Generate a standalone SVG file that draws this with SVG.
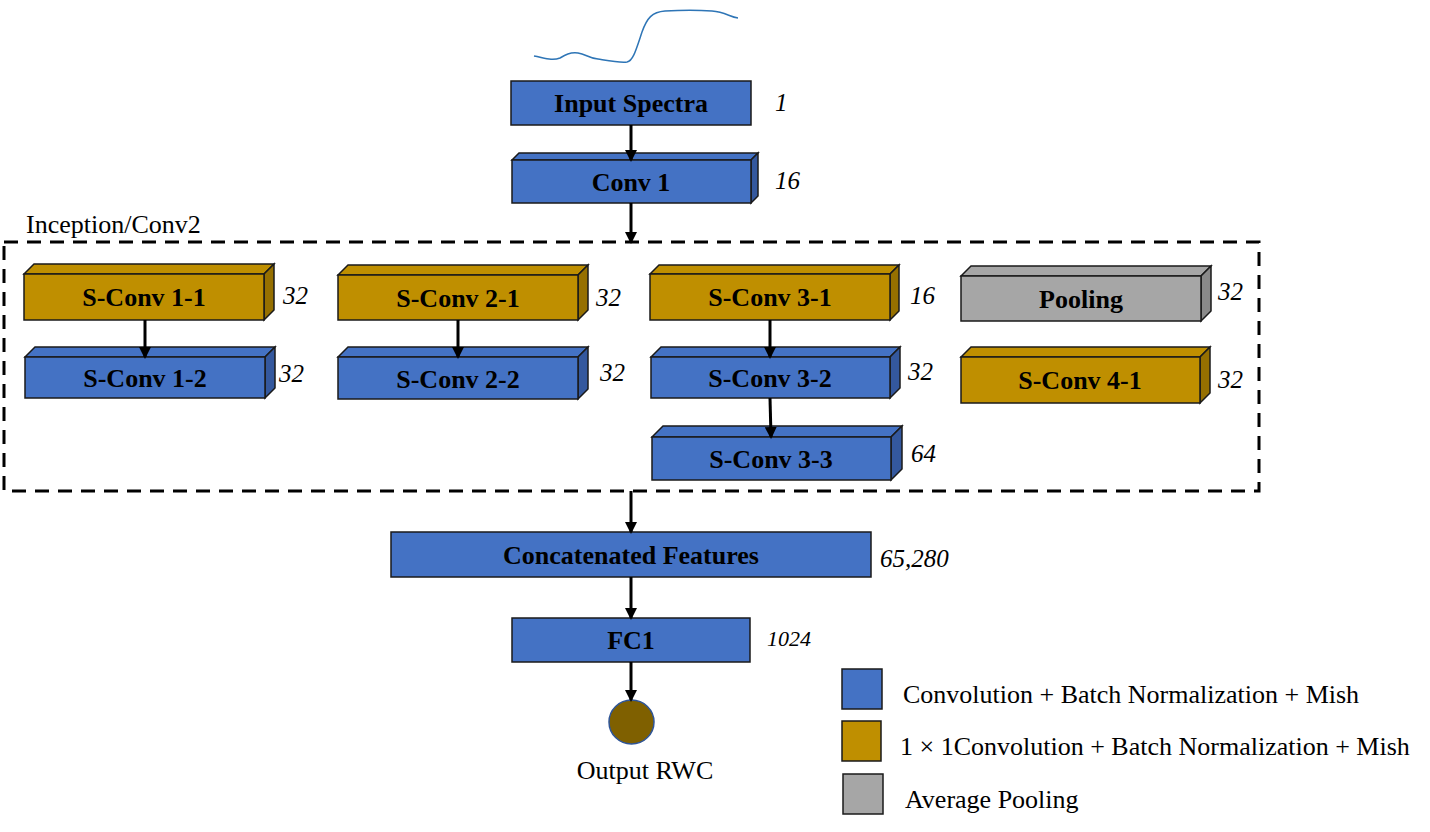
<svg xmlns="http://www.w3.org/2000/svg" width="1430" height="832" viewBox="0 0 1430 832">
<defs>
<style>
.blue{fill:#4472C4;stroke:#1a1a1a;stroke-width:1.5}
.blueS{fill:#34589E;stroke:#1a1a1a;stroke-width:1.5}
.gold{fill:#BF8F00;stroke:#1a1a1a;stroke-width:1.5}
.goldS{fill:#967000;stroke:#1a1a1a;stroke-width:1.5}
.gray{fill:#A6A6A6;stroke:#1a1a1a;stroke-width:1.5}
.grayS{fill:#8A8A8A;stroke:#1a1a1a;stroke-width:1.5}
.lbl{font-family:"Liberation Serif","Times New Roman",serif;font-weight:bold;font-size:26px;fill:#000;text-anchor:middle}
.num{font-family:"Liberation Serif","Times New Roman",serif;font-style:italic;font-size:25px;fill:#000}
.txt{font-family:"Liberation Serif","Times New Roman",serif;font-size:26px;fill:#000}
.leg{font-family:"Liberation Serif","Times New Roman",serif;font-size:26px;fill:#000}
.arr{stroke:#000;stroke-width:3;fill:none;marker-end:url(#ah)}
</style>
<marker id="ah" markerWidth="12" markerHeight="12" refX="10" refY="6" orient="auto" markerUnits="userSpaceOnUse">
<path d="M0,0 L12,6 L0,12 Z" fill="#000"/>
</marker>
</defs>
<rect width="1430" height="832" fill="#fff"/>

<path d="M534,56 C545,58 552,61 560,58 C565,55 570,52 578,53 C586,54 588,58 598,59 C610,61 620,63 627,62 C633,61 636,50 642,32 C647,18 652,12 665,11 C680,10 700,10 712,11 C725,12 730,17 738,18" fill="none" stroke="#2E75B6" stroke-width="1.5"/>

<g id="input-spectra">
<rect class="blue" x="511" y="81" width="240" height="44"/>
<text class="lbl" x="631" y="112">Input Spectra</text>
<text class="num" x="775" y="111">1</text>
</g>

<g id="conv1">
<polygon class="blue" points="512,160 519,153 758,153 751,160"/>
<polygon class="blueS" points="751,160 758,153 758,196 751,203"/>
<rect class="blue" x="512" y="160" width="239" height="43"/>
<text class="lbl" x="631" y="191">Conv 1</text>
<text class="num" x="775" y="189">16</text>
</g>

<g id="inception">
<rect x="4" y="242" width="1255" height="249" fill="none" stroke="#000" stroke-width="3" stroke-dasharray="14,9"/>
<text class="txt" x="26" y="233">Inception/Conv2</text>
</g>

<g id="sconv11">
<polygon class="gold" points="24,274 34,264 274,264 264,274"/>
<polygon class="goldS" points="264,274 274,264 274,310 264,320"/>
<rect class="gold" x="24" y="274" width="240" height="46"/>
<text class="lbl" x="144" y="306">S-Conv 1-1</text>
<text class="num" x="283" y="304">32</text>
</g>
<g id="sconv12">
<polygon class="blue" points="25,357 35,347 275,347 265,357"/>
<polygon class="blueS" points="265,357 275,347 275,388 265,398"/>
<rect class="blue" x="25" y="357" width="240" height="41"/>
<text class="lbl" x="145" y="387">S-Conv 1-2</text>
<text class="num" x="279" y="382">32</text>
</g>

<g id="sconv21">
<polygon class="gold" points="338,275 348,265 588,265 578,275"/>
<polygon class="goldS" points="578,275 588,265 588,310 578,320"/>
<rect class="gold" x="338" y="275" width="240" height="45"/>
<text class="lbl" x="458" y="307">S-Conv 2-1</text>
<text class="num" x="596" y="306">32</text>
</g>
<g id="sconv22">
<polygon class="blue" points="338,357 348,347 588,347 578,357"/>
<polygon class="blueS" points="578,357 588,347 588,389 578,399"/>
<rect class="blue" x="338" y="357" width="240" height="42"/>
<text class="lbl" x="458" y="388">S-Conv 2-2</text>
<text class="num" x="600" y="381">32</text>
</g>

<g id="sconv31">
<polygon class="gold" points="650,274 659,265 899,265 890,274"/>
<polygon class="goldS" points="890,274 899,265 899,311 890,320"/>
<rect class="gold" x="650" y="274" width="240" height="46"/>
<text class="lbl" x="770" y="306">S-Conv 3-1</text>
<text class="num" x="910" y="304">16</text>
</g>
<g id="sconv32">
<polygon class="blue" points="651,357 661,347 900,347 890,357"/>
<polygon class="blueS" points="890,357 900,347 900,388 890,398"/>
<rect class="blue" x="651" y="357" width="239" height="41"/>
<text class="lbl" x="770" y="387">S-Conv 3-2</text>
<text class="num" x="908" y="380">32</text>
</g>
<g id="sconv33">
<polygon class="blue" points="652,437 663,426 902,426 891,437"/>
<polygon class="blueS" points="891,437 902,426 902,469 891,480"/>
<rect class="blue" x="652" y="437" width="239" height="43"/>
<text class="lbl" x="771" y="468">S-Conv 3-3</text>
<text class="num" x="911" y="462">64</text>
</g>

<g id="pooling">
<polygon class="gray" points="961,276 971,266 1211,266 1201,276"/>
<polygon class="grayS" points="1201,276 1211,266 1211,311 1201,321"/>
<rect class="gray" x="961" y="276" width="240" height="45"/>
<text class="lbl" x="1081" y="308">Pooling</text>
<text class="num" x="1218" y="300">32</text>
</g>
<g id="sconv41">
<polygon class="gold" points="961,357 971,347 1210,347 1200,357"/>
<polygon class="goldS" points="1200,357 1210,347 1210,393 1200,403"/>
<rect class="gold" x="961" y="357" width="239" height="46"/>
<text class="lbl" x="1080" y="389">S-Conv 4-1</text>
<text class="num" x="1218" y="388">32</text>
</g>

<g id="concat">
<rect class="blue" x="391" y="532" width="480" height="45"/>
<text class="lbl" x="631" y="564">Concatenated Features</text>
<text class="num" x="880" y="567">65,280</text>
</g>

<g id="fc1">
<rect class="blue" x="512" y="618" width="238" height="44"/>
<text class="lbl" x="631" y="649">FC1</text>
<text class="num" x="767" y="646" style="font-size:22px">1024</text>
</g>

<g id="output">
<ellipse cx="631.5" cy="722" rx="22.5" ry="22" fill="#7F6000" stroke="#2F5597" stroke-width="1.5"/>
<text class="txt" x="645" y="779" text-anchor="middle">Output RWC</text>
</g>

<g id="connectors">
<line class="arr" x1="631" y1="125" x2="631" y2="160"/>
<line class="arr" x1="631" y1="203" x2="631" y2="242"/>
<line class="arr" x1="145" y1="320" x2="145" y2="357"/>
<line class="arr" x1="458" y1="320" x2="458" y2="357"/>
<line class="arr" x1="770" y1="320" x2="770" y2="357"/>
<line class="arr" x1="770" y1="398" x2="771" y2="437"/>
<line class="arr" x1="631" y1="491" x2="631" y2="532"/>
<line class="arr" x1="631" y1="577" x2="631" y2="618"/>
<line class="arr" x1="631" y1="662" x2="631" y2="700"/>
</g>

<g id="legend">
<rect class="blue" x="842" y="669" width="40" height="40"/>
<text class="leg" x="903" y="703">Convolution + Batch Normalization + Mish</text>
<rect class="gold" x="842" y="721" width="39" height="40"/>
<text class="leg" x="900" y="755">1 × 1Convolution + Batch Normalization + Mish</text>
<rect class="gray" x="843" y="774" width="40" height="40"/>
<text class="leg" x="905" y="808">Average Pooling</text>
</g>
</svg>
